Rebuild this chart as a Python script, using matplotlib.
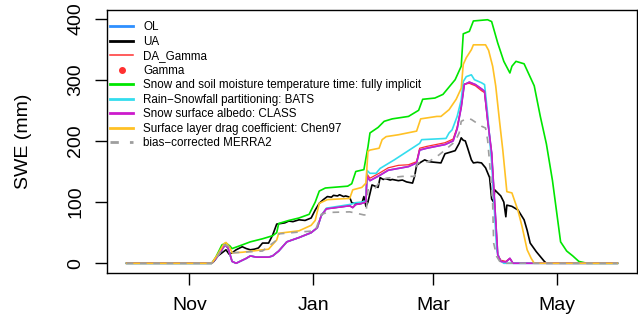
import matplotlib
matplotlib.use("Agg")
import matplotlib.pyplot as plt
from matplotlib.lines import Line2D
import pandas as pd

plt.rcParams["font.family"] = ["Liberation Sans", "DejaVu Sans"]

# Season start; all series are given as (day offset from start, SWE in mm)
season_start = "2017-10-01"
season_end_day = 242

ol_days = [0, 42, 45, 48.5, 50, 52, 54, 59, 61, 64, 70, 72, 75, 79, 85, 91, 94, 96, 98.5,
           110, 111.5, 113, 116, 118, 118.5, 120, 125, 129, 139, 143, 144.5, 148, 157, 161,
           163, 165, 166.5, 169, 172, 175, 176.5, 178, 180, 181.5, 183, 184.5, 187, 189, 190.5, 242]
ol_swe = [0, 0, 12, 30, 25, 3, 0, 8, 12, 10, 10, 12, 20, 35, 42, 50, 58, 78, 89,
          94, 91, 96, 98, 100, 142, 135, 144, 152, 158, 164, 185, 188, 194, 200,
          220, 255, 292, 296, 292, 285, 281, 235, 180, 98, 14, 3, 2, 8, 0, 0]

ua_days = [0, 42, 43, 45, 47, 49, 50.5, 52, 54, 57, 59, 61, 63, 65, 67, 70, 72, 74, 76, 78, 80,
           82, 85, 88, 91, 93, 95, 97, 99, 101, 102, 104, 105, 107, 108, 110, 111, 113, 116, 117,
           118, 119, 121, 122.5, 124, 125, 126.5, 128, 130, 131, 134, 136, 138, 141, 142, 143,
           145, 147, 149, 152, 155, 157, 160, 162, 164, 165, 166, 167, 168, 170, 171, 173, 175,
           177, 179, 180, 181, 181.5, 183, 184.5, 186, 187, 187.5, 190, 193, 196, 197.5, 199,
           202, 204, 206, 207, 242]
ua_swe = [0, 0, 3, 12, 17, 22, 15, 17, 22, 27, 24, 22, 23, 25, 33, 33, 46, 64, 65, 66, 69,
          68, 71, 70, 74, 87, 98, 104, 109, 108, 111, 110, 112, 109, 110, 108, 99, 97, 98, 109,
          93, 100, 128, 126, 124, 140, 137, 138, 136, 137, 135, 136, 133, 131, 142, 160,
          165, 169, 166, 165, 164, 179, 182, 184, 196, 205, 201, 200, 190, 169, 164, 165, 164,
          156, 140, 105, 100, 120, 115, 110, 100, 76, 95, 93, 87, 71, 54, 33,
          19, 11, 3, 0, 0]

da_gamma_days = [0, 42, 45, 48.5, 50, 52, 54, 59, 61, 64, 70, 72, 75, 79, 85, 91, 94, 96, 98.5,
                 110, 111.5, 113, 116, 118, 118.5, 120, 125, 129, 134, 139, 143, 144.5, 148,
                 157, 161, 163, 165, 166.5, 169, 172, 175, 176.5, 178, 180, 181.5, 183, 184.5,
                 187, 189, 190.5, 242]
da_gamma_swe = [0, 0, 12, 30, 25, 3, 0, 8, 12, 10, 10, 12, 20, 35, 42, 50, 58, 78, 89,
                94, 91, 96, 98, 100, 146, 139, 148, 156, 160, 161, 166, 188, 191,
                197, 203, 222, 256, 293, 294, 290, 282, 279, 234, 180, 98, 14, 5,
                3, 8, 0, 0]

gamma_days = []
gamma_swe = []

implicit_days = [0, 42, 44, 47, 49, 51, 52, 57, 61, 67, 72, 74, 75, 80, 85, 90, 93, 95, 98, 109,
                 111, 113, 117, 119, 120, 124, 127, 131, 139, 144, 146, 152, 156, 162, 165, 166,
                 169, 171, 178, 180, 183, 186, 189, 190, 192, 196, 201, 204, 207, 210, 212, 214,
                 217, 220, 223, 227, 242]
implicit_swe = [0, 0, 10, 30, 33, 28, 24, 30, 35, 40, 45, 50, 65, 70, 74, 80, 100, 118, 123, 126,
                130, 150, 153, 190, 213, 222, 232, 236, 240, 250, 268, 270, 276, 300, 322, 375,
                379, 396, 398, 395, 360, 330, 311, 322, 330, 326, 290, 240, 195, 135, 85, 35,
                20, 12, 3, 0, 0]

bats_days = [0, 42, 45, 48.5, 50, 52, 54, 59, 61, 64, 70, 72, 75, 79, 85, 91, 94, 96, 98.5, 110,
             113, 116, 118, 118.5, 120, 123, 125, 128, 132, 144.5, 145.5, 157.5, 159, 160.5, 163,
             165, 166, 167.5, 170, 171.5, 175, 176.5, 178, 180, 182.5, 184, 186, 242]
bats_swe = [0, 0, 12, 30, 25, 3, 0, 8, 12, 10, 10, 12, 20, 35, 42, 50, 58, 78, 90, 96,
            99, 100, 102, 152, 147, 147, 155, 161, 169, 196, 202, 204, 213, 218, 240,
            267, 297, 305, 308, 300, 295, 292, 245, 164, 22, 5, 0, 0]

class_days = ol_days
class_swe = [0, 0, 12, 30, 25, 3, 0, 8, 12, 10, 10, 12, 20, 35, 42, 50, 58, 78, 89,
             94, 91, 96, 98, 100, 142, 135, 144, 152, 158, 164, 185, 188, 194, 200,
             220, 255, 292, 296, 292, 285, 281, 235, 180, 98, 14, 3, 2, 8, 0, 0]

chen97_days = [0, 42, 45, 48, 49, 51, 52, 57, 67, 70, 74, 75, 85, 91, 93, 95, 99, 110, 111.5,
               116, 118, 119, 120, 124.5, 126, 128, 134, 143, 145, 153, 155, 159, 162.5, 165,
               166, 167.5, 170, 171, 177, 178.5, 180.5, 182, 184, 185.5, 187.5, 190, 193, 195,
               197.5, 199.5, 201, 242]
chen97_swe = [0, 0, 15, 32, 34, 25, 17, 18, 22, 23, 38, 49, 53, 62, 70, 98, 104, 106, 120,
              124, 131, 183, 185, 188, 202, 207, 210, 216, 236, 240, 240, 251, 268, 286,
              325, 336, 349, 357, 357, 348, 322, 290, 229, 185, 117, 115, 86, 60,
              22, 8, 0, 0]

merra2_days = [0, 42, 45, 48, 50, 52, 57, 67, 74, 75, 85, 93, 96, 99, 110, 113, 117, 118, 119,
               122, 125, 128, 136, 142, 143.5, 149, 154, 157, 162, 164, 165, 168, 170, 175, 177,
               178, 179, 180.5, 181, 182.5, 184, 185, 242]
merra2_swe = [0, 0, 12, 30, 28, 17, 18, 20, 38, 48, 51, 53, 80, 83, 84, 82, 79, 79, 120,
              120, 134, 139, 142, 142, 164, 166, 177, 185, 199, 213, 232, 237, 235, 224, 221,
              202, 164, 98, 33, 11, 3, 0, 0]

tick_dates = ["2017-11-01", "2018-01-01", "2018-03-01", "2018-05-01"]
tick_labels = ["Nov", "Jan", "Mar", "May"]

legend_labels = ["OL", "UA", "DA_Gamma", "Gamma",
                 "Snow and soil moisture temperature time: fully implicit",
                 "Rain\u2212Snowfall partitioning: BATS",
                 "Snow surface albedo: CLASS",
                 "Surface layer drag coefficient: Chen97",
                 "bias\u2212corrected MERRA2"]

col_ol = "#2E8FFF"
col_ua = "#000000"
col_red = "#FF3030"
col_green = "#00E600"
col_cyan = "#33DDEE"
col_mag = "#CC1ACC"
col_gold = "#FFC125"
col_grey = "#9E9E9E"

start = pd.Timestamp(season_start)


def to_dates(days):
    return [start + pd.Timedelta(days=float(d)) for d in days]


fig = plt.figure(figsize=(6.38, 3.20), dpi=100)
W, H = 638, 320
ax = fig.add_axes([107 / W, 1 - 273 / H, (637 - 107) / W, (273 - 10) / H])

lw = 1.2
ax.plot(to_dates(ol_days), ol_swe, color=col_ol, lw=lw)
ax.plot(to_dates(ua_days), ua_swe, color=col_ua, lw=lw)
ax.plot(to_dates(da_gamma_days), da_gamma_swe, color=col_red, lw=0.9)
ax.plot(to_dates(gamma_days), gamma_swe, "o", color=col_red, ms=3)
ax.plot(to_dates(implicit_days), implicit_swe, color=col_green, lw=lw)
ax.plot(to_dates(bats_days), bats_swe, color=col_cyan, lw=lw)
ax.plot(to_dates(class_days), class_swe, color=col_mag, lw=lw)
ax.plot(to_dates(chen97_days), chen97_swe, color=col_gold, lw=lw)
ax.plot(to_dates(merra2_days), merra2_swe, color=col_grey, lw=lw, dashes=(4, 4))

x0 = start
x1 = start + pd.Timedelta(days=season_end_day)
span = x1 - x0
ax.set_xlim(x0 - span * 0.04, x1 + span * 0.04)
ax.set_ylim(-0.04 * 398, 398 * 1.04)

ax.set_xticks([pd.Timestamp(t) for t in tick_dates])
ax.set_xticklabels(tick_labels)
ax.set_yticks([0, 100, 200, 300, 400])
ax.set_yticklabels(["0", "100", "200", "300", "400"], rotation=90, va="center")

for s in ax.spines.values():
    s.set_linewidth(1.0)
ax.tick_params(axis="both", direction="out", length=8.5, width=1.0, labelsize=14)
ax.tick_params(axis="x", pad=9)
ax.tick_params(axis="y", pad=8)

fig.text(24 / W, 1 - 141 / H, "SWE (mm)", rotation=90, ha="center", va="center", fontsize=14)

handles = [
    Line2D([], [], color=col_ol, lw=2.0),
    Line2D([], [], color=col_ua, lw=2.0),
    Line2D([], [], color=col_red, lw=1.1),
    Line2D([], [], color=col_red, marker="o", ls="none", ms=4),
    Line2D([], [], color=col_green, lw=2.0),
    Line2D([], [], color=col_cyan, lw=2.0),
    Line2D([], [], color=col_mag, lw=2.0),
    Line2D([], [], color=col_gold, lw=2.0),
    Line2D([], [], color=col_grey, lw=2.0, dashes=(3, 4)),
]
ax.legend(handles, legend_labels, loc="upper left", bbox_to_anchor=(3 / 530, 1 - 11.5 / 263),
          frameon=False, fontsize=8.4, handlelength=2.0, handletextpad=0.85,
          labelspacing=0.21, borderpad=0, borderaxespad=0)

fig.savefig("out.png", dpi=100)
